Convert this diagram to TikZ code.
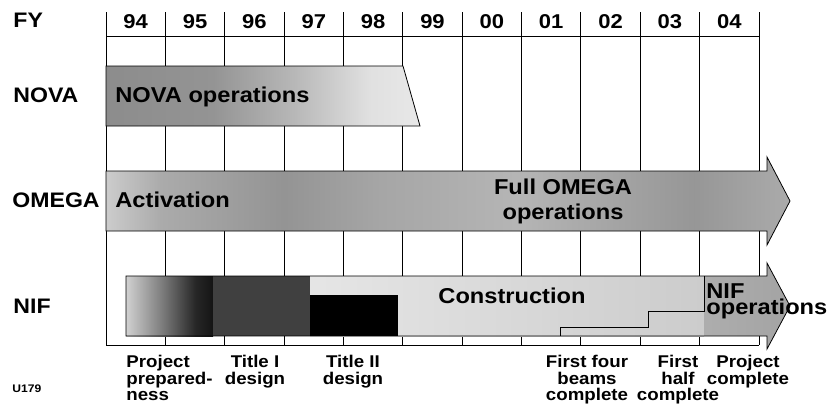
\documentclass[tikz,border=0pt]{standalone}
\usepackage{fontspec}
\setmainfont{Liberation Sans}[FakeStretch=1.1]
\pgfdeclarehorizontalshading{novashade}{100bp}{color(0bp)=(black!45); color(25bp)=(black!45); color(42bp)=(black!42); color(55bp)=(black!28); color(67bp)=(black!12); color(75bp)=(black!9); color(100bp)=(black!9)}
\pgfdeclarehorizontalshading{omegashade}{100bp}{color(0bp)=(black!20); color(25bp)=(black!20); color(29bp)=(black!33); color(38bp)=(black!42); color(45bp)=(black!35); color(55bp)=(black!29); color(68bp)=(black!41); color(75bp)=(black!33); color(100bp)=(black!33)}
\pgfdeclarehorizontalshading{prepshade}{100bp}{color(0bp)=(black!18); color(25bp)=(black!18); color(45bp)=(black!50); color(65bp)=(black!85); color(75bp)=(black!92); color(100bp)=(black!92)}
\begin{document}
\begin{tikzpicture}[x=1pt,y=-1pt,line width=0.8pt,
  lbl/.style={font=\bfseries\fontsize{21}{25}\selectfont,inner sep=0pt,anchor=base west},
  yr/.style={font=\bfseries\fontsize{20}{24}\selectfont,inner sep=0pt,anchor=base},
  bartext/.style={font=\bfseries\fontsize{21.5}{25}\selectfont,inner sep=0pt},
  milestone/.style={font=\bfseries\fontsize{17}{16.8}\selectfont,inner sep=0pt,anchor=north,align=center}]
\useasboundingbox (0,0) rectangle (829,407);
% year grid
\foreach \yr [count=\i from 0] in {94,95,96,97,98,99,00,01,02,03,04}
  \node[yr] (fy\yr) at (106+59.36*\i+29.68,28) {\yr};
\foreach \i in {0,...,11}
  \draw (106+59.36*\i,12)--(106+59.36*\i,345);
\draw (106,36)--(759,36);
\draw (106,345)--(759,345);
% NOVA
\shadedraw[shading=novashade] (106,66)--(403,66)--(420,126)--(106,126)--cycle;
% OMEGA
\shadedraw[shading=omegashade] (106,171)--(767,171)--(767,157)--(790,201)--(767,245)--(767,231)--(106,231)--cycle;
% NIF
\shade[shading=prepshade] (126,276) rectangle (213,336);
\fill[black!75] (213,276) rectangle (310,336);
\shade[left color=black!10,right color=black!20] (310,276) rectangle (704,336);
\fill[black] (310,295) rectangle (398,336);
\shade[left color=black!32,middle color=black!46,right color=black!36] (704,276)--(767,276)--(767,263)--(790,306)--(767,349)--(767,336)--(704,336)--cycle;
\draw (560,336) |- (648,327) |- (704,311) -- (704,276);
\draw (126,276)--(767,276)--(767,263)--(790,306)--(767,349)--(767,336)--(126,336)--cycle;
% labels
\node[lbl] (fy) at (13,27) {FY};
\node[lbl] (nova) at (13,102) {NOVA};
\node[lbl] (omega) at (12,207) {OMEGA};
\node[lbl] (nif) at (13,313) {NIF};
\node[bartext,anchor=base west] (novaops) at (115,102) {NOVA operations};
\node[bartext,anchor=base west] (activ) at (115,207) {Activation};
\node[bartext,align=center,anchor=north] (fullops) at (563,178.5) {Full OMEGA\\operations};
\node[bartext,anchor=base] (constr) at (512,303) {Construction};
\node[bartext,font=\bfseries\fontsize{21.5}{16.5}\selectfont,align=left,anchor=north west] (nifops) at (706,283) {NIF\\operations};
% milestones
\node[milestone,align=left,anchor=north west] (prep) at (126,354.5) {Project\\prepared-\\ness};
\node[milestone] (title1) at (255,354.5) {Title I\\design};
\node[milestone] (title2) at (353,354.5) {Title II\\design};
\node[milestone] (four) at (587,354.5) {First four\\beams\\complete};
\node[milestone] (half) at (678,354.5) {First\\half\\complete};
\node[milestone] (done) at (748,354.5) {Project\\complete};
\node[font=\bfseries\fontsize{11}{13}\selectfont,inner sep=0pt,anchor=base west] (code) at (12,392) {U179};
\end{tikzpicture}
\end{document}
